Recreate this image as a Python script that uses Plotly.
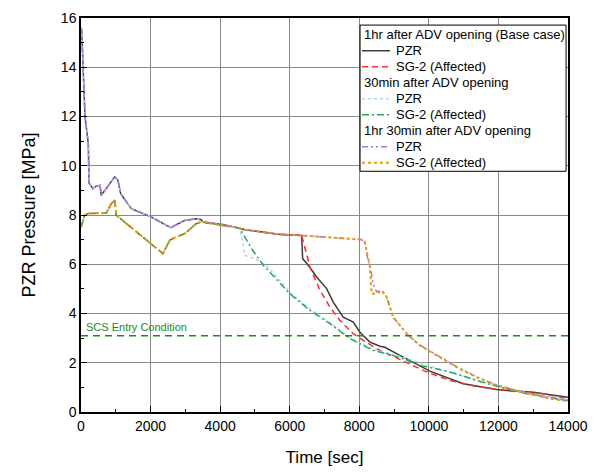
import plotly.graph_objects as go

# PZR pressure, shared by all three cases before the ADV-related divergence
pzr_early_t = [0, 20, 115, 210, 230, 345, 440, 546, 583, 969, 1063, 1141, 1446, 2020, 2578, 2693, 2980, 3314, 3457, 3506, 4032, 4500]
pzr_early_p = [15.6, 15.5, 12.0, 10.9, 9.3, 9.07, 9.17, 9.21, 8.80, 9.55, 9.41, 8.87, 8.26, 7.92, 7.49, 7.58, 7.78, 7.85, 7.81, 7.72, 7.62, 7.48]

# SG-2 pressure, shared by all three cases early on
sg_early_t = [0, 106, 201, 727, 871, 969, 1015, 2357, 2549, 2693, 2980, 3314, 3457, 4032, 4500]
sg_early_p = [7.5, 7.99, 8.06, 8.08, 8.46, 8.60, 7.99, 6.43, 6.97, 7.08, 7.24, 7.65, 7.72, 7.60, 7.48]

# plateau shared by base case and 1hr 30min case
plateau_t = [4713, 5280, 5662, 6343]
plateau_p = [7.40, 7.30, 7.22, 7.17]

# base case (1hr)
base_pzr_t = [6372, 6533, 6774, 7061, 7251, 7539, 7826, 8018, 8306, 8593, 8737, 9073, 10030, 10988, 11947, 12400, 13000, 14000]
base_pzr_p = [6.23, 5.96, 5.48, 5.01, 4.46, 3.85, 3.65, 3.24, 2.84, 2.67, 2.63, 2.37, 1.66, 1.15, 0.91, 0.86, 0.80, 0.60]
base_sg_t = [6389, 6582, 6869, 7156, 7444, 7826, 8113, 8593, 9073, 9900, 10605, 11372, 12042, 12617, 13287, 14000]
base_sg_p = [6.90, 5.89, 4.94, 4.26, 3.72, 3.18, 2.91, 2.50, 2.20, 1.65, 1.28, 1.04, 0.90, 0.81, 0.74, 0.54]

# 30min case
m30_pzr_t = [4570, 4713, 5001, 5374, 6007, 6582, 7156, 7731, 8401, 9073, 9838, 10318, 10797, 11372, 12042, 12809, 13479, 14000]
m30_pzr_p = [7.45, 6.36, 6.23, 5.89, 4.85, 4.18, 3.62, 3.00, 2.55, 2.30, 1.95, 1.74, 1.53, 1.30, 1.03, 0.76, 0.62, 0.50]
m30_sg_t = [4570, 4906, 5239, 6007, 6582, 7156, 7731, 8401, 9073, 9800, 10318, 10797, 11372, 12042, 12809, 13479, 14000]
m30_sg_p = [7.45, 6.63, 5.96, 4.80, 4.13, 3.59, 2.98, 2.50, 2.25, 1.88, 1.72, 1.55, 1.28, 1.01, 0.74, 0.60, 0.47]

# 1hr 30min case
h15_pzr_t = [8067, 8162, 8230, 8306, 8400, 8498, 8642, 8786, 8976, 9360, 9743, 10222, 10797, 11372, 11947, 12425, 13000, 13479, 14000]
h15_pzr_p = [7.00, 6.90, 6.30, 5.95, 5.20, 4.88, 4.94, 4.67, 3.85, 3.18, 2.72, 2.32, 1.84, 1.43, 1.10, 0.92, 0.72, 0.56, 0.46]
h15_sg_t = [8067, 8162, 8306, 8354, 8498, 8642, 8786, 8976, 9360, 9743, 10222, 10797, 11372, 11947, 12425, 13000, 13479, 14000]
h15_sg_p = [7.00, 6.90, 5.89, 4.80, 4.80, 4.94, 4.67, 3.85, 3.18, 2.70, 2.30, 1.82, 1.41, 1.08, 0.90, 0.71, 0.54, 0.44]

SCS_ENTRY = 3.1

group_titles = ["1hr after ADV opening (Base case)", "30min after ADV opening", "1hr 30min after ADV opening"]

series = [
    (0, "PZR", pzr_early_t + plateau_t + base_pzr_t, pzr_early_p + plateau_p + base_pzr_p,
     dict(color="#3c3c3c", width=1.5, dash="solid")),
    (0, "SG-2 (Affected)", sg_early_t + plateau_t + base_sg_t, sg_early_p + plateau_p + base_sg_p,
     dict(color="#ff2a2a", width=1.5, dash="6px,4px")),
    (1, "PZR", pzr_early_t + m30_pzr_t, pzr_early_p + m30_pzr_p,
     dict(color="#a8d4ee", width=1.5, dash="dot")),
    (1, "SG-2 (Affected)", sg_early_t + m30_sg_t, sg_early_p + m30_sg_p,
     dict(color="#2aa860", width=1.5, dash="7px,3px,2px,3px")),
    (2, "PZR", pzr_early_t + plateau_t + h15_pzr_t, pzr_early_p + plateau_p + h15_pzr_p,
     dict(color="#b070e8", width=1.5, dash="6px,3px,2px,3px,2px,3px")),
    (2, "SG-2 (Affected)", sg_early_t + plateau_t + h15_sg_t, sg_early_p + plateau_p + h15_sg_p,
     dict(color="#e0a000", width=2, dash="dot")),
]

fig = go.Figure()
for g, name, t, p, line in series:
    fig.add_trace(go.Scatter(x=t, y=p, mode="lines", name=name, line=line, showlegend=False))

fig.add_hline(y=SCS_ENTRY, line=dict(color="#1a8a1a", width=1.5, dash="7px,5px"))
fig.add_annotation(
    x=0, y=SCS_ENTRY, text="SCS Entry Condition", showarrow=False,
    xanchor="left", yanchor="bottom", xshift=3, yshift=1,
    font=dict(size=11, color="#1a8a1a"),
)

# legend box drawn by hand so the row spacing matches the original (paper coords)
lg_x0, lg_x1, lg_top, lg_bottom = 0.573, 0.996, 0.982, 0.611
row_h = 16 / 393.5
sample_w = 28 / 487
text_x = 34 / 487
fig.add_shape(type="rect", xref="paper", yref="paper", x0=lg_x0, x1=lg_x1, y0=lg_bottom, y1=lg_top,
              line=dict(color="black", width=1), fillcolor="white", layer="above")
row = 0
for g, title in enumerate(group_titles):
    ry = lg_top - (row + 0.6) * row_h
    fig.add_annotation(x=lg_x0 + 0.004, y=ry, xref="paper", yref="paper", text=title, showarrow=False,
                       xanchor="left", yanchor="middle", font=dict(size=13, color="black"))
    row += 1
    for sg, name, t, p, line in series:
        if sg != g:
            continue
        ry = lg_top - (row + 0.6) * row_h
        fig.add_shape(type="line", xref="paper", yref="paper", x0=lg_x0 + 0.004, x1=lg_x0 + 0.004 + sample_w,
                      y0=ry, y1=ry, line=line, layer="above")
        fig.add_annotation(x=lg_x0 + text_x, y=ry, xref="paper", yref="paper", text=name, showarrow=False,
                           xanchor="left", yanchor="middle", font=dict(size=13, color="black"))
        row += 1

axis_common = dict(
    showline=True, linecolor="black", linewidth=1.5, mirror=True,
    showgrid=True, gridcolor="#8a8a8a", gridwidth=1,
    ticks="inside", ticklen=6, tickcolor="black",
    tickfont=dict(size=14, color="black"), zeroline=False, automargin=False,
    tickformat="d",
)

fig.update_layout(
    width=592, height=464,
    margin=dict(l=73, r=32, t=10, b=60),
    plot_bgcolor="white", paper_bgcolor="white",
    font=dict(family="Liberation Sans, Arial, sans-serif", color="black"),
    xaxis=dict(range=[0, 14000], dtick=2000,
               minor=dict(dtick=1000, ticks="inside", ticklen=3, tickcolor="black", showgrid=False),
               title=dict(text="Time [sec]", font=dict(size=17), standoff=19),
               **axis_common),
    yaxis=dict(range=[0, 16], dtick=2,
               minor=dict(dtick=1, ticks="inside", ticklen=3, tickcolor="black", showgrid=False),
               title=dict(text="PZR Pressure [MPa]", font=dict(size=18), standoff=21),
               **axis_common),
    showlegend=False,
)

fig.write_html("out.html")
